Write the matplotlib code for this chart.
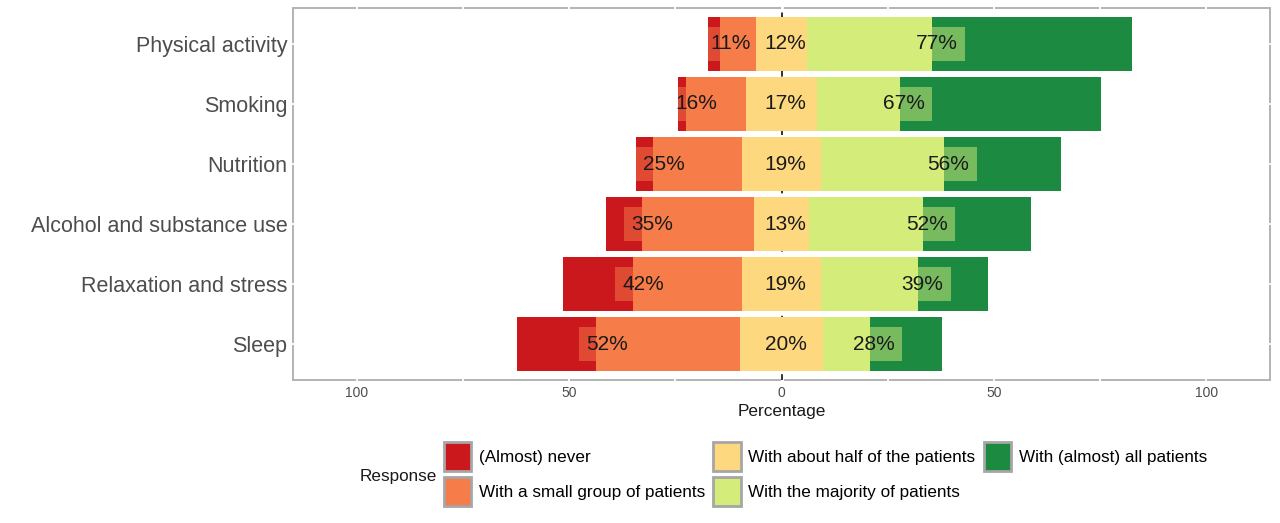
import numpy as np
import matplotlib.pyplot as plt
from matplotlib.patches import Patch

plt.rcParams['font.family'] = ['Liberation Sans', 'DejaVu Sans']

# data (percent of respondents)
items = ['Physical activity', 'Smoking', 'Nutrition',
         'Alcohol and substance use', 'Relaxation and stress', 'Sleep']
responses = ['(Almost) never', 'With a small group of patients',
             'With about half of the patients', 'With the majority of patients',
             'With (almost) all patients']
never = [2.9, 2.0, 4.0, 8.4, 16.5, 18.5]
small_group = [8.5, 14.0, 20.9, 26.4, 25.6, 33.8]
about_half = [11.8, 16.9, 18.6, 13.0, 18.7, 19.7]
majority = [29.6, 19.4, 29.0, 26.8, 22.8, 11.0]
almost_all = [47.0, 47.4, 27.4, 25.4, 16.4, 17.0]

colors = ['#cb181d', '#f67c4a', '#fdd87e', '#d3ec7a', '#1d8a42']

never = np.array(never)
small_group = np.array(small_group)
about_half = np.array(about_half)
majority = np.array(majority)
almost_all = np.array(almost_all)

low = never + small_group
high = majority + almost_all
ypos = np.arange(len(items))[::-1] + 1

fig = plt.figure(figsize=(12.8, 5.23), dpi=100)
ax = fig.add_axes([293/1280, 1-380/523, (1270-293)/1280, (380-8)/523])

h = 0.9
halfw = about_half / 2
# neutral centred on zero
ax.barh(ypos, about_half, left=-halfw, height=h, color=colors[2], zorder=3)
# negative side
ax.barh(ypos, small_group, left=-halfw - small_group, height=h, color=colors[1], zorder=3)
bars_never = ax.barh(ypos, never, left=-halfw - low, height=h, color=colors[0], zorder=3)
# positive side
ax.barh(ypos, majority, left=halfw, height=h, color=colors[3], zorder=3)
bars_all = ax.barh(ypos, almost_all, left=halfw + majority, height=h, color=colors[4], zorder=3)

# percentage labels; the half transparent label box only shows on the outer segment
for i in range(len(items)):
    t = ax.text(-halfw[i] - small_group[i] + 2.5, ypos[i], '%d%%' % round(low[i]),
                ha='center', va='center', fontsize=15, color='#1a1a1a', zorder=5,
                bbox=dict(boxstyle='square,pad=0.35', fc=colors[1], ec='none', alpha=0.5))
    bp = t.get_bbox_patch()
    bp.set_clip_on(True)
    bp.set_clip_path(bars_never.patches[i])

    ax.text(1, ypos[i], '%d%%' % round(about_half[i]),
            ha='center', va='center', fontsize=15, color='#1a1a1a', zorder=5)

    t = ax.text(halfw[i] + majority[i] + 1, ypos[i], '%d%%' % round(high[i]),
                ha='center', va='center', fontsize=15, color='#1a1a1a', zorder=5,
                bbox=dict(boxstyle='square,pad=0.35', fc=colors[3], ec='none', alpha=0.5))
    bp = t.get_bbox_patch()
    bp.set_clip_on(True)
    bp.set_clip_path(bars_all.patches[i])

ax.set_xlim(-115, 115)
ax.set_ylim(0.4, 6.6)

# white grid lines that break the panel border
for gx in np.arange(-100, 101, 25):
    if gx != 0:
        ax.axvline(gx, ymin=-0.006, ymax=1.006, color='white', lw=1.3, zorder=2.6, clip_on=False)
for gy in ypos:
    ax.axhline(gy, xmin=-0.003, xmax=1.003, color='white', lw=1.3, zorder=2.6, clip_on=False)
ax.axvline(0, ymin=-0.006, ymax=1.006, color='white', lw=2, zorder=2.6, clip_on=False)
ax.axvline(0, color='#333333', lw=1.4, ls=(0, (3, 3)), zorder=2.7)

for s in ax.spines.values():
    s.set_color('#b3b3b3')
    s.set_linewidth(1.4)

ticks = [-100, -50, 0, 50, 100]
ax.set_xticks(ticks)
ax.set_xticklabels([str(abs(t)) for t in ticks])
ax.set_yticks(ypos)
ax.set_yticklabels(items)
ax.tick_params(axis='x', length=0, pad=4, labelsize=10, labelcolor='#4d4d4d')
ax.tick_params(axis='y', length=0, pad=4, labelsize=15.5, labelcolor='#4d4d4d')
ax.set_xlabel('Percentage', fontsize=12.4, color='#1a1a1a', labelpad=3)

handles = [Patch(facecolor=c, edgecolor='#a6a6a6', linewidth=2, label=r)
           for c, r in zip(colors, responses)]
fig.legend(handles=handles, ncol=3, loc='upper left',
           bbox_to_anchor=(444/1280, 1-442/523), frameon=False,
           fontsize=12.3, borderpad=0, borderaxespad=0,
           handlelength=1.6, handleheight=2.2, handletextpad=0.45,
           columnspacing=0.48, labelspacing=0.38)
fig.text(360/1280, 1-476/523, 'Response', fontsize=12.3, color='#1a1a1a',
         ha='left', va='center')

fig.savefig('out.png', dpi=100)
